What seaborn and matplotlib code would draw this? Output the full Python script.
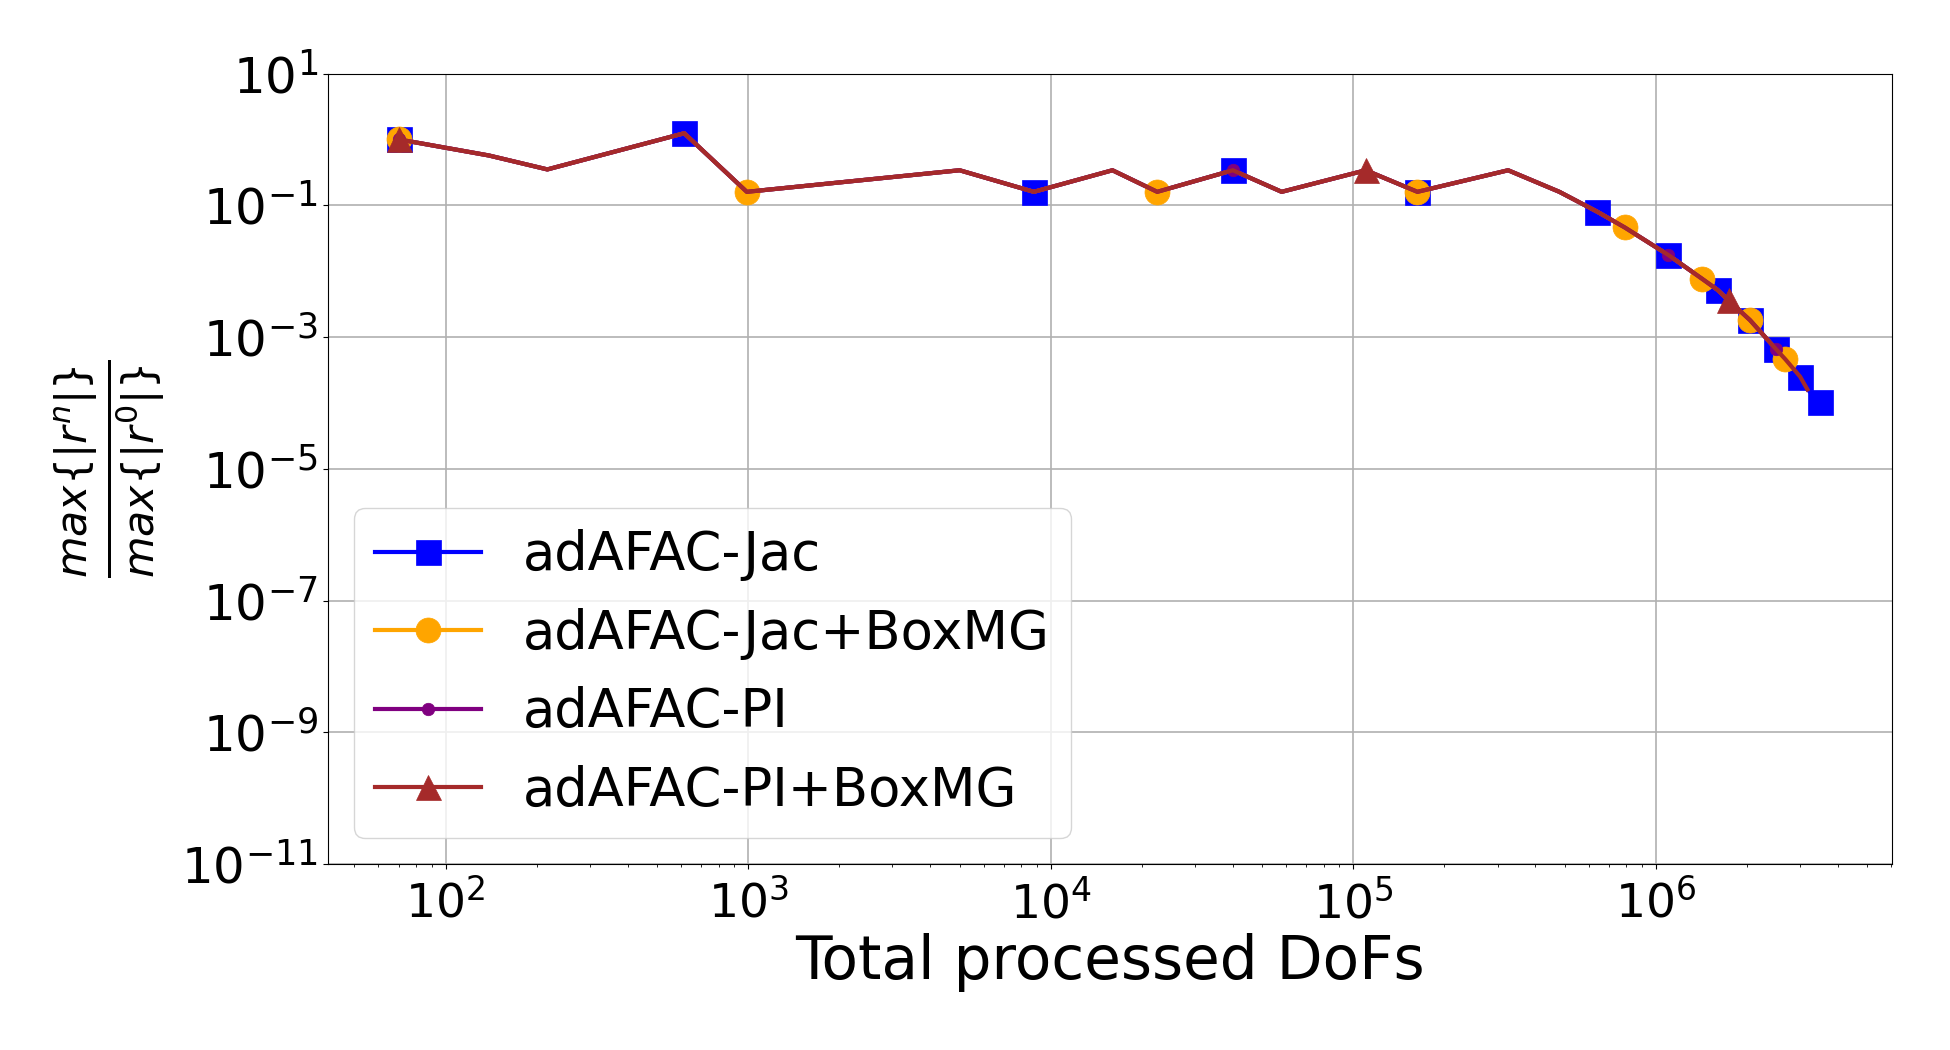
import numpy as np
import pandas as pd
import seaborn as sns
import matplotlib.pyplot as plt
from matplotlib.ticker import NullLocator

# residual history (shared convergence path)
dofs = [70, 139, 217, 615, 990, 5000, 8800, 1.6e4, 2.25e4, 4.0e4, 5.8e4,
        1.1e5, 1.63e5, 3.25e5, 4.8e5, 6.4e5, 7.9e5, 1.1e6, 1.42e6, 1.6e6,
        1.74e6, 2.05e6, 2.5e6, 2.68e6, 3.0e6, 3.17e6, 3.5e6]
residual = [1.0, 0.57, 0.35, 1.24, 0.16, 0.34, 0.16, 0.34, 0.16, 0.34, 0.16,
            0.34, 0.16, 0.34, 0.16, 0.08, 0.046, 0.0176, 0.0077, 0.0052,
            0.0036, 0.0018, 6.5e-4, 4.6e-4, 2.5e-4, 1.6e-4, 1.05e-4]

labels = ['adAFAC-Jac', 'adAFAC-Jac+BoxMG', 'adAFAC-PI', 'adAFAC-PI+BoxMG']
colors = ['blue', 'orange', 'purple', 'brown']
markers = ['s', 'o', '.', '^']
last_idx = [26, 23, 22, 25]
mark_idx = [
    [0, 3, 6, 9, 12, 15, 17, 19, 21, 22, 24, 26],
    [0, 4, 8, 12, 16, 18, 21, 23],
    [0, 9, 17, 22],
    [0, 11, 20],
]

fig, ax = plt.subplots(figsize=(19.5, 10.5), dpi=100)
fig.subplots_adjust(left=0.168, right=0.970, top=0.930, bottom=0.177)

for lab, col, mk, end, idx in zip(labels, colors, markers, last_idx, mark_idx):
    df = pd.DataFrame({'dofs': dofs[:end + 1], 'res': residual[:end + 1]})
    sns.lineplot(data=df, x='dofs', y='res', ax=ax, sort=False, estimator=None,
                 color=col, marker=mk, markersize=18, markevery=idx,
                 markeredgecolor=col, markeredgewidth=0.5, linewidth=3, label=lab)

ax.set_xscale('log')
ax.set_yscale('log')
ax.set_ylim(1e-11, 10)
ax.set_yticks([10.0 ** e for e in range(1, -12, -2)])
ax.yaxis.set_minor_locator(NullLocator())
ax.grid(True, which='major', color='#b0b0b0', linewidth=1.2)
ax.tick_params(axis='x', labelsize=34, pad=8)
ax.tick_params(axis='y', labelsize=36)

ax.set_xlabel('Total processed DoFs', fontsize=43, labelpad=4)
ax.set_ylabel(r'$\frac{max\{|r^n|\}}{max\{|r^0|\}}$', fontsize=44, labelpad=10)

ax.legend(loc='lower left', fontsize=38)

fig.savefig('out.png', dpi=100)
